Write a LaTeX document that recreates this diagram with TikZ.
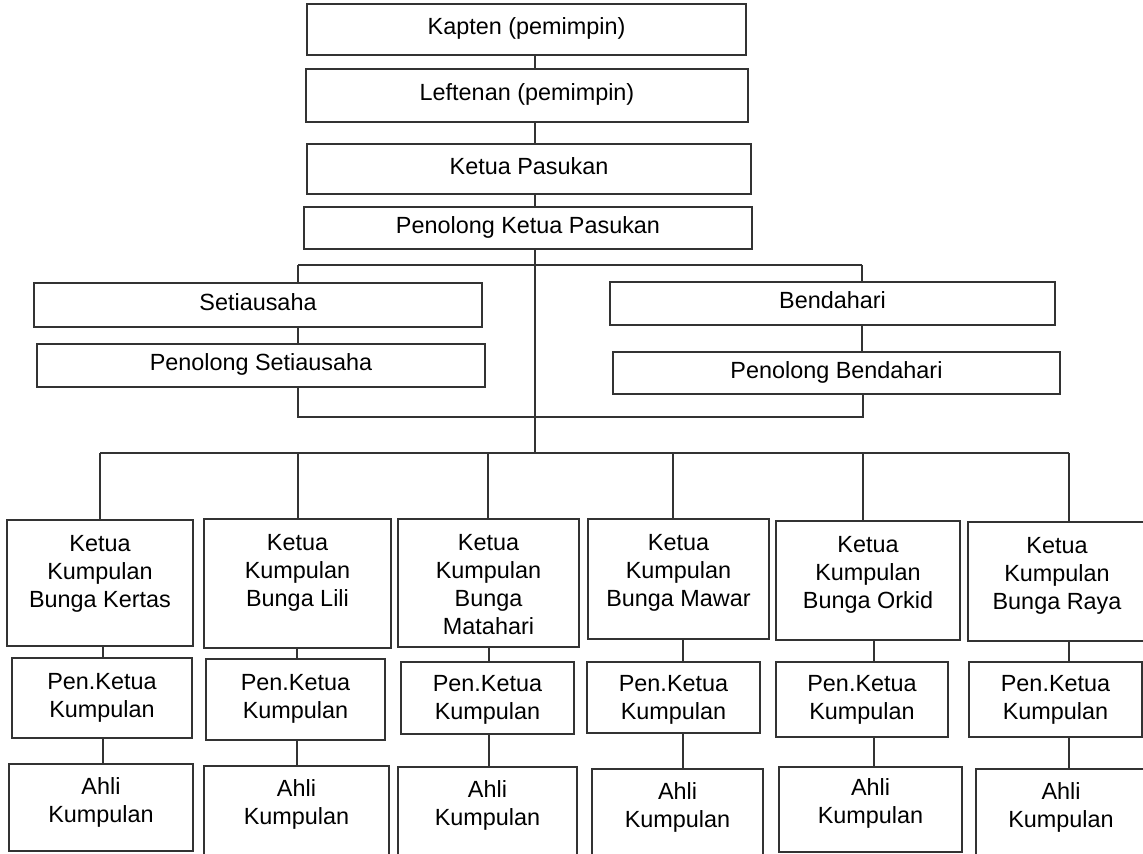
\documentclass[tikz,border=0pt]{standalone}
\usepackage{fontspec}
\setmainfont{Liberation Sans}
\usetikzlibrary{positioning, fit}

\begin{document}
\begin{tikzpicture}[x=0.5pt, y=-0.5pt, line width=0.6pt,
		font=\fontsize{11.7}{14}\selectfont,
		orgbox/.style={draw=black!80, inner sep=0pt},
		boxtext/.style={align=center, inner sep=0pt},
		midtext/.style={inner sep=0pt, text height=0.73em, text depth=0.21em}]
		
		\useasboundingbox (0,0) rectangle (1143,854);
		\clip (0,0) rectangle (1143,854);
		
		% pimpinan pasukan
		\node[orgbox, fit={(307,4) (746,55)}] (kapten) {};
		\node[midtext] at (kapten) (kaptent) {Kapten (pemimpin)};
		\node[orgbox, fit={(306,69) (748,122)}] (leftenan) {};
		\node[midtext] at (leftenan) (leftenant) {Leftenan (pemimpin)};
		\node[orgbox, fit={(307,144) (751,194)}] (ketua) {};
		\node[midtext] at (ketua) (ketuat) {Ketua Pasukan};
		\node[orgbox, fit={(304,207) (752,249)}] (penketua) {};
		\node[midtext] at (penketua) (penketuat) {Penolong Ketua Pasukan};
		
		\node[orgbox, fit={(34,283) (482,327)}] (setia) {};
		\node[midtext] at (setia) (setiat) {Setiausaha};
		\node[orgbox, fit={(37,344) (485,387)}] (pensetia) {};
		\node[midtext] at (pensetia) (pensetiat) {Penolong Setiausaha};
		\node[orgbox, fit={(610,282) (1055,325)}] (benda) {};
		\node[midtext] at (benda) (bendat) {Bendahari};
		\node[orgbox, fit={(613,352) (1060,394)}] (penbenda) {};
		\node[midtext] at (penbenda) (penbendat) {Penolong Bendahari};
		
		% kumpulan bunga
		\node[orgbox, fit={(7,520) (193,646)}] (k1) {};
		\node[boxtext, below=7.5pt of k1.north] (k1t) {Ketua\\Kumpulan\\Bunga Kertas};
		\node[orgbox, fit={(12,658) (192,738)}] (p1) {};
		\node[boxtext, below=7.5pt of p1.north] (p1t) {Pen.Ketua\\Kumpulan};
		\node[orgbox, fit={(9,764) (193,851)}] (a1) {};
		\node[boxtext, below=7pt of a1.north] (a1t) {Ahli\\Kumpulan};
		
		\node[orgbox, fit={(204,519) (391,648)}] (k2) {};
		\node[boxtext, below=7.5pt of k2.north] (k2t) {Ketua\\Kumpulan\\Bunga Lili};
		\node[orgbox, fit={(206,659) (385,740)}] (p2) {};
		\node[boxtext, below=7.5pt of p2.north] (p2t) {Pen.Ketua\\Kumpulan};
		\node[orgbox, fit={(204,766) (389,870)}] (a2) {};
		\node[boxtext, below=7pt of a2.north] (a2t) {Ahli\\Kumpulan};
		
		\node[orgbox, fit={(398,519) (579,647)}] (k3) {};
		\node[boxtext, below=7.5pt of k3.north] (k3t) {Ketua\\Kumpulan\\Bunga\\Matahari};
		\node[orgbox, fit={(401,662) (574,734)}] (p3) {};
		\node[boxtext, below=6.5pt of p3.north] (p3t) {Pen.Ketua\\Kumpulan};
		\node[orgbox, fit={(398,767) (577,870)}] (a3) {};
		\node[boxtext, below=7pt of a3.north] (a3t) {Ahli\\Kumpulan};
		
		\node[orgbox, fit={(588,519) (769,639)}] (k4) {};
		\node[boxtext, below=7.5pt of k4.north] (k4t) {Ketua\\Kumpulan\\Bunga Mawar};
		\node[orgbox, fit={(587,662) (760,733)}] (p4) {};
		\node[boxtext, below=6.5pt of p4.north] (p4t) {Pen.Ketua\\Kumpulan};
		\node[orgbox, fit={(592,769) (763,870)}] (a4) {};
		\node[boxtext, below=7pt of a4.north] (a4t) {Ahli\\Kumpulan};
		
		\node[orgbox, fit={(776,521) (960,640)}] (k5) {};
		\node[boxtext, below=7.5pt of k5.north] (k5t) {Ketua\\Kumpulan\\Bunga Orkid};
		\node[orgbox, fit={(776,662) (948,737)}] (p5) {};
		\node[boxtext, below=6.5pt of p5.north] (p5t) {Pen.Ketua\\Kumpulan};
		\node[orgbox, fit={(779,767) (962,852)}] (a5) {};
		\node[boxtext, below=6pt of a5.north] (a5t) {Ahli\\Kumpulan};
		
		\node[orgbox, fit={(968,522) (1146,641)}] (k6) {};
		\node[boxtext, below=7.5pt of k6.north] (k6t) {Ketua\\Kumpulan\\Bunga Raya};
		\node[orgbox, fit={(969,662) (1142,737)}] (p6) {};
		\node[boxtext, below=6.5pt of p6.north] (p6t) {Pen.Ketua\\Kumpulan};
		\node[orgbox, fit={(976,769) (1146,870)}] (a6) {};
		\node[boxtext, below=7pt of a6.north] (a6t) {Ahli\\Kumpulan};
		
		% garis penghubung
		\begin{scope}[black!80]
			\coordinate (spine) at (535,453);
			\coordinate (ta) at (298,265);
			\coordinate (tb) at (862,265);
			\coordinate (ba) at (298,417);
			\coordinate (bb) at (863,417);
			
			\draw (kapten.south -| spine) -- (leftenan.north -| spine);
			\draw (leftenan.south -| spine) -- (ketua.north -| spine);
			\draw (ketua.south -| spine) -- (penketua.north -| spine);
			\draw (penketua.south -| spine) -- (spine);
			
			\draw (ta) -- (tb);
			\draw (ta) -- (ta |- setia.north);
			\draw (tb) -- (tb |- benda.north);
			\draw (setia.south -| ta) -- (pensetia.north -| ta);
			\draw (benda.south -| tb) -- (penbenda.north -| tb);
			\draw (pensetia.south -| ba) -- (ba) -- (bb) -- (penbenda.south -| bb);
			
			\foreach \n/\d/\c in {1/100/103, 2/298/297, 3/488/489, 4/673/683, 5/863/874, 6/1069/1069} {
				\coordinate (d\n) at (\d,453);
				\coordinate (c\n) at (\c,0);
				\draw (d\n) -- (d\n |- k\n.north);
				\draw (k\n.south -| c\n) -- (p\n.north -| c\n);
				\draw (p\n.south -| c\n) -- (a\n.north -| c\n);
			}
			\draw (d1) -- (d6);
		\end{scope}
	\end{tikzpicture}
\end{document}
